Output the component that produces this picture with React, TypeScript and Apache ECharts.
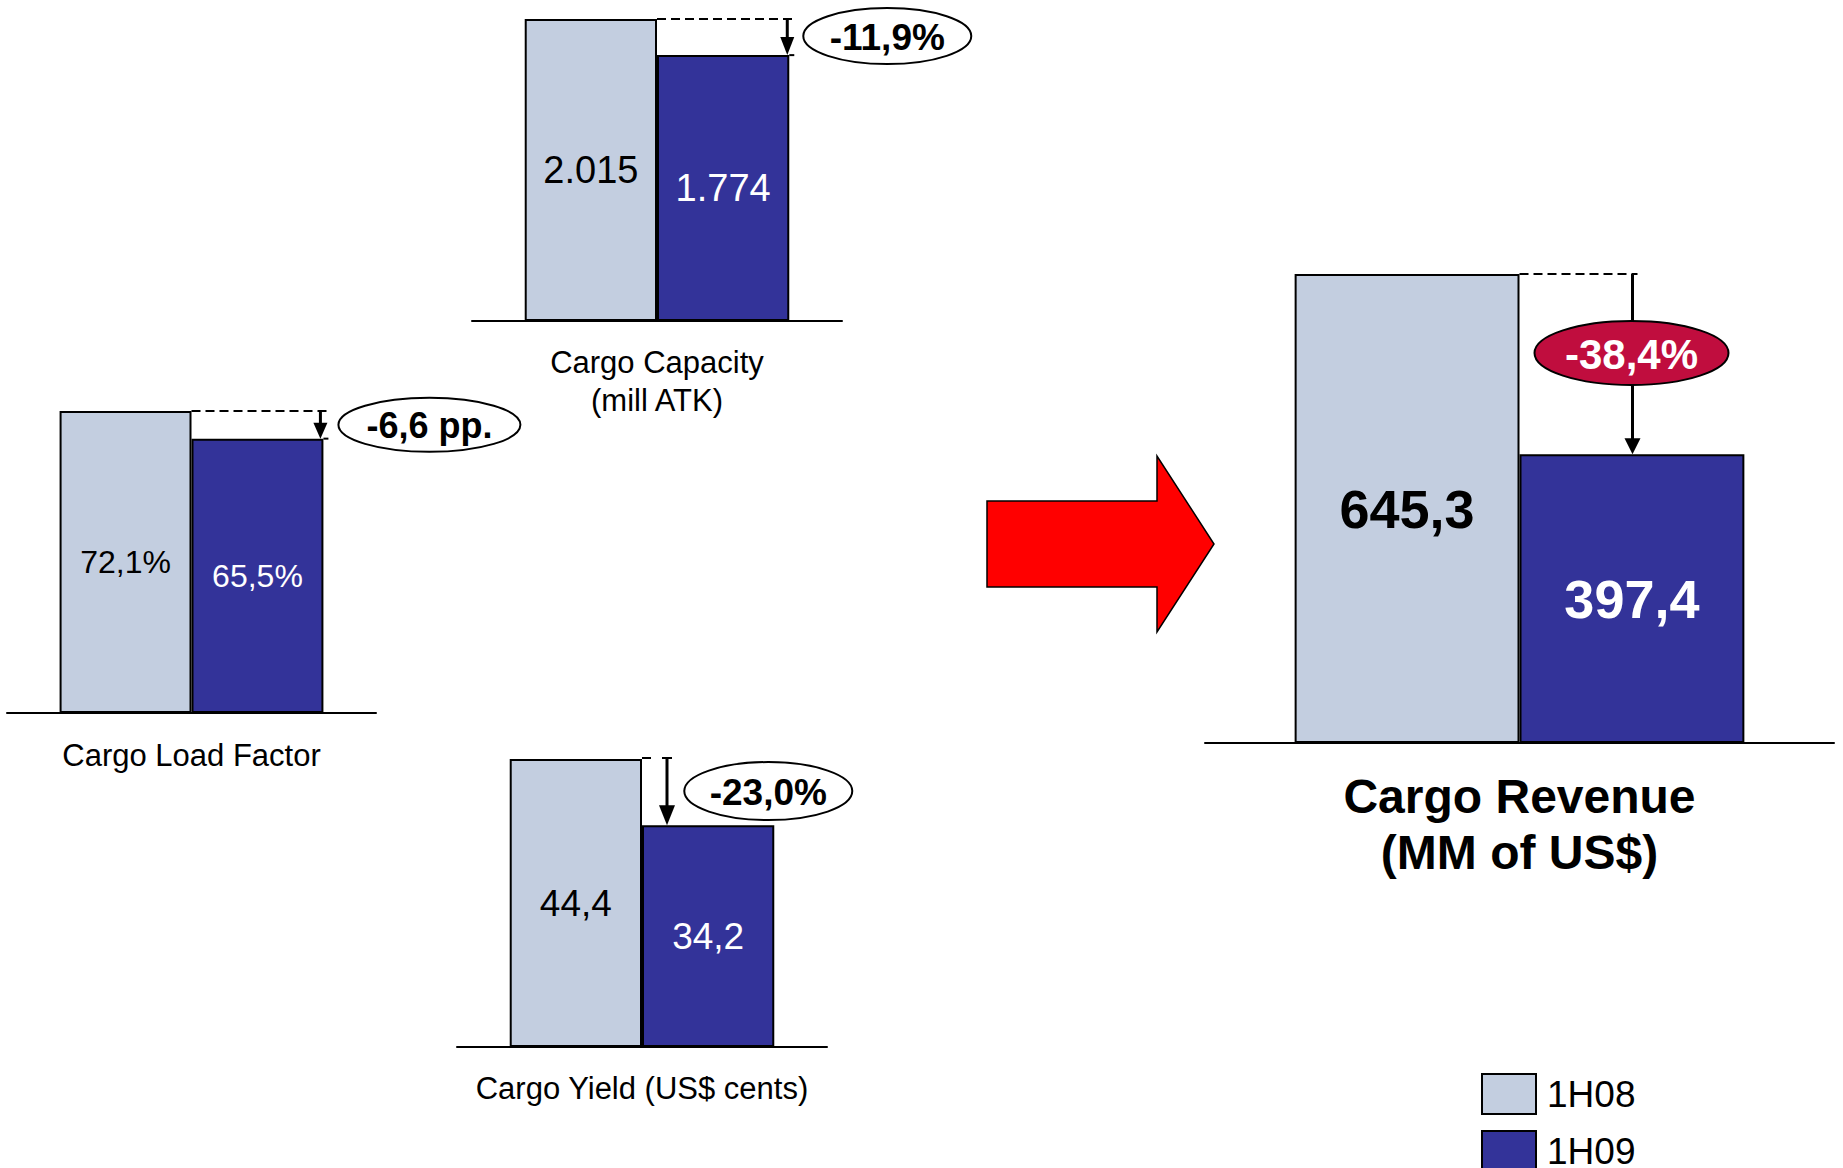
import React, { useEffect, useRef } from "react";
import * as echarts from "echarts";

const FONT = "'Liberation Sans', Arial, Helvetica, sans-serif";

const seriesNames = ["1H08", "1H09"];
const categories = [
  "Cargo Capacity\n(mill ATK)",
  "Cargo Load Factor",
  "Cargo Yield (US$ cents)",
  "Cargo Revenue\n(MM of US$)",
];
const values1H08 = [2015, 72.1, 44.4, 645.3];
const values1H09 = [1774, 65.5, 34.2, 397.4];
const changeLabels = ["-11,9%", "-6,6 pp.", "-23,0%", "-38,4%"];
const valueFormats = ["thousands", "percent", "decimal", "decimal"];

const COLOR_08 = "#C3CEE0";
const COLOR_09 = "#333399";
const BADGE_RED = "#C00D3E";
const BAR_GAP = 0.285;

const grids = [
  { left: 472, width: 370, top: 19, height: 302 },
  { left: 7, width: 369, top: 411, height: 302 },
  { left: 457, width: 370, top: 759, height: 288 },
  { left: 1205, width: 629, top: 274, height: 469 },
];

const valueFont = [
  { size: 38, weight: "normal" },
  { size: 32, weight: "normal" },
  { size: 37, weight: "normal" },
  { size: 54, weight: "bold" },
];

const catFont = [
  { size: 31, lineHeight: 38, margin: 22, weight: "normal" },
  { size: 31, lineHeight: 38, margin: 23, weight: "normal" },
  { size: 31, lineHeight: 38, margin: 22, weight: "normal" },
  { size: 48, lineHeight: 56, margin: 25, weight: "bold" },
];

function fmt(v: number, kind: string): string {
  if (kind === "thousands") {
    const s = String(Math.round(v));
    return s.replace(/\B(?=(\d{3})+(?!\d))/g, ".");
  }
  const s = v.toFixed(1).replace(".", ",");
  return kind === "percent" ? s + "%" : s;
}

function buildOption(): any {
  const grid = grids.map((g) => ({ ...g, containLabel: false }));
  const xAxis = grids.map((_, i) => ({
    type: "category",
    gridIndex: i,
    data: [categories[i]],
    axisTick: { show: false },
    axisLine: { show: true, lineStyle: { color: "#000", width: 2 } },
    axisLabel: {
      margin: catFont[i].margin,
      fontSize: catFont[i].size,
      lineHeight: catFont[i].lineHeight,
      fontWeight: catFont[i].weight,
      fontFamily: FONT,
      color: "#000",
      interval: 0,
    },
    z: 5,
  }));
  const yAxis = grids.map((_, i) => ({
    type: "value",
    gridIndex: i,
    min: 0,
    max: "dataMax",
    show: false,
  }));
  const series: any[] = [];
  grids.forEach((_, i) => {
    [values1H08, values1H09].forEach((vals, s) => {
      series.push({
        type: "bar",
        name: seriesNames[s],
        xAxisIndex: i,
        yAxisIndex: i,
        data: [vals[i]],
        barGap: "0%",
        barCategoryGap: BAR_GAP * 100 + "%",
        itemStyle: {
          color: s === 0 ? COLOR_08 : COLOR_09,
          borderColor: "#000",
          borderWidth: 2,
        },
        label: {
          show: true,
          position: "inside",
          formatter: (p: any) => fmt(p.value, valueFormats[i]),
          color: s === 0 ? "#000" : "#fff",
          fontSize: valueFont[i].size,
          fontWeight: valueFont[i].weight,
          fontFamily: FONT,
        },
        emphasis: { disabled: true },
      });
    });
  });
  return {
    animation: false,
    backgroundColor: "#fff",
    textStyle: { fontFamily: FONT },
    grid,
    xAxis,
    yAxis,
    series,
    legend: {
      data: seriesNames,
      orient: "vertical",
      left: 1481,
      top: 1073,
      width: 250,
      height: 300,
      padding: 0,
      itemWidth: 54,
      itemHeight: 40,
      itemGap: 15,
      icon: "rect",
      selectedMode: false,
      itemStyle: { borderColor: "#000", borderWidth: 2 },
      textStyle: {
        fontSize: 37,
        color: "#000",
        fontFamily: FONT,
        padding: [0, 0, 0, 6],
      },
    },
  };
}

function dashed(x1: number, x2: number, y: number): any {
  return {
    type: "line",
    z: 10,
    shape: { x1, y1: y, x2, y2: y },
    style: { stroke: "#000", lineWidth: 2, lineDash: [9, 5] },
  };
}

function solid(x1: number, y1: number, x2: number, y2: number, lw = 2): any {
  return {
    type: "line",
    z: 10,
    shape: { x1, y1, x2, y2 },
    style: { stroke: "#000", lineWidth: lw },
  };
}

function arrow(x: number, yA: number, yB: number, hw: number, hh: number, lw: number): any[] {
  return [
    solid(x, yA, x, yB - hh + 1, lw),
    {
      type: "polygon",
      z: 10,
      shape: { points: [[x - hw, yB - hh], [x + hw, yB - hh], [x, yB]] },
      style: { fill: "#000" },
    },
  ];
}

function badge(cx: number, cy: number, rx: number, ry: number, text: string, size: number, fill: string, color: string): any[] {
  return [
    {
      type: "ellipse",
      z: 20,
      shape: { cx, cy, rx, ry },
      style: { fill, stroke: "#000", lineWidth: 2 },
    },
    {
      type: "text",
      z: 21,
      x: cx,
      y: cy + 1,
      style: {
        text,
        fontSize: size,
        fontWeight: "bold",
        fontFamily: FONT,
        fill: color,
        align: "center",
        verticalAlign: "middle",
      },
    },
  ];
}

function buildGraphics(chart: any): any[] {
  const els: any[] = [];
  const pos = grids.map((g, i) => {
    const y1 = chart.convertToPixel({ yAxisIndex: i }, values1H08[i]);
    const y2 = chart.convertToPixel({ yAxisIndex: i }, values1H09[i]);
    const xm = chart.convertToPixel({ xAxisIndex: i }, categories[i]);
    const bw = (g.width * (1 - BAR_GAP)) / 2;
    return { y1, y2, xm, xr: xm + bw };
  });

  // Cargo Capacity
  {
    const { y1, y2, xm, xr } = pos[0];
    els.push(dashed(xm, xr + 5, y1));
    els.push(solid(xr, y2, xr + 5, y2, 2));
    els.push(...arrow(xr - 2, y1, y2, 7, 18, 3));
    els.push(...badge(xr + 98, (y1 + y2) / 2 - 1, 84, 28, changeLabels[0], 37, "#fff", "#000"));
  }
  // Cargo Load Factor
  {
    const { y1, y2, xm, xr } = pos[1];
    els.push(dashed(xm, xr + 5, y1));
    els.push(solid(xr, y2, xr + 5, y2, 2));
    els.push(...arrow(xr - 3, y1, y2, 7, 16, 3));
    els.push(...badge(xr + 106, (y1 + y2) / 2, 91, 27, changeLabels[1], 36, "#fff", "#000"));
  }
  // Cargo Yield
  {
    const { y1, y2, xm, xr } = pos[2];
    els.push(solid(xm, y1 - 1, xm + 9, y1 - 1, 2));
    els.push(solid(xm + 20, y1 - 1, xm + 30, y1 - 1, 2));
    els.push(...arrow(xm + 25, y1 - 1, y2, 8, 20, 3));
    els.push(...badge(xr - 6, (y1 + y2) / 2 - 1, 84, 29, changeLabels[2], 37, "#fff", "#000"));
  }
  // Cargo Revenue
  {
    const { y1, y2, xm } = pos[3];
    els.push(dashed(xm, xm + 118, y1));
    els.push(...arrow(xm + 113, y1, y2, 8, 16, 3));
    els.push(...badge(xm + 112, y1 + 79, 97, 32, changeLabels[3], 42, BADGE_RED, "#fff"));
  }

  // Big red arrow pointing to the revenue chart
  els.push({
    type: "polygon",
    z: 10,
    shape: {
      points: [
        [987, 501],
        [1157, 501],
        [1157, 456],
        [1214, 544],
        [1157, 632],
        [1157, 587],
        [987, 587],
      ],
    },
    style: { fill: "#FF0000", stroke: "#000", lineWidth: 1.5 },
  });
  return els;
}

export default function App() {
  const ref = useRef<HTMLDivElement>(null);
  useEffect(() => {
    if (!ref.current) return;
    const chart = echarts.init(ref.current, null, { renderer: "svg" });
    chart.setOption(buildOption());
    chart.setOption({ graphic: buildGraphics(chart) });
    return () => chart.dispose();
  }, []);
  return (
    <div
      ref={ref}
      style={{ position: "absolute", left: 0, top: 0, width: 1843, height: 1168, background: "#fff" }}
    />
  );
}
